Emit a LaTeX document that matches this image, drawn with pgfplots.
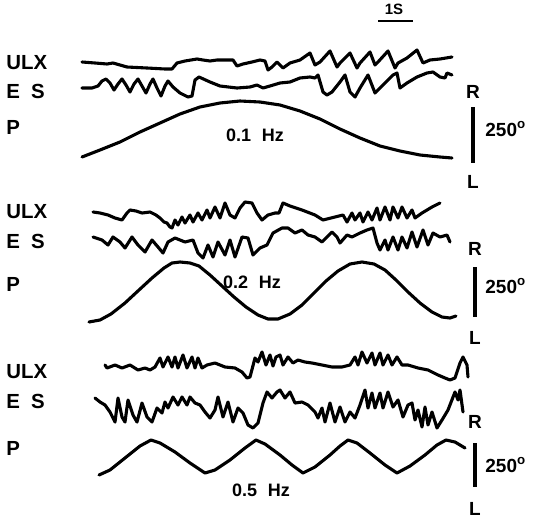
\documentclass[border=0pt]{standalone}
\usepackage{pgfplots}
\pgfplotsset{compat=1.18}
\usepackage{fontspec}
\setmainfont{Liberation Sans}
\begin{document}
\begin{tikzpicture}
\begin{axis}[scale only axis, width=273pt, height=260pt,
  xmin=0, xmax=546, ymin=0, ymax=520, y dir=reverse,
  hide axis, clip=false,
  tr/.style={black, line width=1.55pt, line join=round, line cap=round, mark=none},
  bar/.style={black, line width=1.7pt, mark=none}]
% invisible frame to fix the picture size
\addplot[draw=none, mark=none] coordinates {(0,0) (546,520)};
% ---------------- row 1 (0.1 Hz) ----------------
\addplot[tr] coordinates {(82,62) (95,63) (107,64) (113,63) (127,67) (147,68) (165,69) (172,69) (177,63) (185,61) (197,59) (203,60) (210,61) (217,60) (233,60) (237,66) (243,64) (252,62) (260,60) (265,61) (268,70) (272,67) (277,62) (283,68) (290,63) (300,60) (310,53) (315,65) (320,62) (330,51) (337,67) (340,63) (350,53) (357,68) (360,63) (370,52) (375,65) (378,62) (388,51) (395,68) (398,63) (407,58) (417,50) (423,63) (430,60) (440,59) (452,57)};
\addplot[tr] coordinates {(82,88) (92,88) (98,86) (102,81) (106,79) (110,83) (114,90) (118,84) (122,79) (126,85) (130,92) (134,84) (138,79) (142,86) (146,93) (150,84) (153,79) (157,88) (161,96) (165,86) (168,81) (173,87) (180,93) (188,97) (192,96) (195,80) (199,77) (210,82) (220,86) (237,88) (250,87) (257,85) (263,88) (270,86) (280,83) (290,82) (300,78) (310,77) (315,78) (318,75) (323,92) (327,95) (332,92) (340,82) (345,75) (350,92) (355,97) (360,88) (368,75) (375,93) (380,88) (388,80) (393,75) (397,73) (400,88) (407,83) (417,77) (427,73) (433,72) (440,77) (445,78) (447,73) (452,75)};
\addplot[tr] coordinates {(82,157) (100,150) (120,142) (140,132) (160,123) (180,114) (200,107) (220,103) (240,101) (260,102) (280,105) (300,111) (320,119) (340,129) (360,138) (380,146) (400,151) (420,155) (440,157) (452,158)};
% ---------------- row 2 (0.2 Hz) ----------------
\addplot[tr] coordinates {(93,212) (100,213) (108,215) (115,218) (122,220) (127,213) (130,210) (136,211) (142,213) (150,212) (156,215) (160,218) (164,222) (167,223) (170,227) (172,228) (175,220) (178,225) (182,217) (185,223) (190,215) (193,222) (198,213) (202,220) (207,210) (210,218) (215,207) (220,218) (225,203) (230,215) (235,218) (240,208) (245,202) (252,203) (257,213) (262,220) (268,215) (275,213) (279,213) (283,203) (290,206) (302,210) (315,215) (323,220) (335,217) (343,215) (347,222) (352,213) (355,220) (360,213) (363,222) (368,212) (372,220) (377,208) (380,220) (385,207) (390,220) (393,207) (398,218) (402,207) (407,218) (412,210) (415,218) (422,213) (432,207) (440,203)};
\addplot[tr] coordinates {(93,237) (102,240) (108,245) (113,237) (120,242) (125,248) (132,237) (138,245) (145,252) (152,240) (158,247) (163,253) (168,242) (175,238) (185,242) (193,240) (198,253) (203,258) (208,245) (213,257) (218,242) (225,255) (230,240) (235,257) (242,237) (248,238) (253,255) (260,248) (267,245) (273,233) (282,228) (288,228) (295,233) (302,230) (308,235) (315,237) (322,242) (327,237) (332,232) (337,237) (340,243) (347,235) (352,237) (360,233) (367,230) (373,228) (377,243) (380,250) (385,240) (388,250) (393,237) (398,250) (402,237) (407,248) (412,232) (417,247) (423,230) (428,245) (433,233) (440,237) (447,235) (450,242)};
\addplot[tr] coordinates {(89,322) (100,320) (111,314) (125,303) (139,290) (152,278) (164,268) (172,263) (180,262) (190,263) (199,266) (210,275) (222,286) (234,297) (246,307) (258,315) (268,319) (278,319) (290,314) (302,305) (314,293) (326,281) (338,271) (350,264) (362,262) (374,264) (385,270) (396,280) (408,292) (420,303) (432,312) (442,317) (450,318) (456,316)};
% ---------------- row 3 (0.5 Hz) ----------------
\addplot[tr] coordinates {(105,365) (107,368) (115,365) (122,368) (130,365) (138,370) (145,368) (150,370) (155,367) (160,358) (163,367) (168,357) (172,367) (175,357) (178,368) (183,355) (187,368) (192,357) (195,368) (198,358) (202,368) (207,365) (215,363) (225,367) (235,368) (242,372) (247,378) (250,377) (255,358) (258,362) (262,352) (266,365) (270,355) (273,366) (276,357) (280,355) (283,365) (288,357) (293,363) (298,360) (305,362) (312,363) (322,365) (332,367) (342,367) (350,365) (355,357) (358,365) (362,352) (367,363) (372,353) (375,365) (380,353) (383,365) (388,355) (392,365) (397,357) (402,365) (408,365) (418,368) (428,370) (438,375) (445,378) (450,380) (455,378) (460,363) (463,357) (467,365) (468,377)};
\addplot[tr] coordinates {(95,398) (100,402) (105,405) (110,412) (115,422) (118,398) (122,417) (125,422) (128,400) (133,415) (137,422) (142,403) (147,417) (152,422) (157,408) (162,413) (165,402) (168,408) (173,397) (178,405) (182,397) (187,405) (190,397) (195,403) (200,405) (205,412) (210,418) (215,410) (218,397) (223,417) (228,402) (233,422) (238,408) (243,413) (248,425) (253,428) (258,423) (263,403) (267,392) (272,398) (277,392) (280,390) (285,398) (290,392) (295,403) (302,402) (308,405) (315,412) (318,418) (322,408) (325,422) (330,403) (335,422) (340,407) (345,422) (350,412) (355,418) (360,405) (365,390) (368,408) (372,393) (375,408) (380,393) (383,408) (388,392) (393,407) (398,400) (403,417) (408,405) (412,403) (415,420) (418,410) (422,427) (425,407) (428,425) (432,412) (437,428) (442,420) (448,410) (455,392) (458,400) (460,390) (463,412)};
\addplot[tr] coordinates {(99,475) (110,470) (125,458) (140,446) (151,440) (160,443) (175,452) (190,463) (205,473) (215,470) (230,460) (245,448) (256,440) (265,444) (280,455) (292,465) (303,473) (315,467) (330,455) (340,446) (348,440) (357,443) (370,453) (385,465) (397,473) (410,466) (425,455) (437,445) (446,440) (455,442) (465,448)};
% ---------------- scale bars ----------------
\addplot[bar, line width=1.3pt] coordinates {(378,21) (413,21)};
\addplot[bar] coordinates {(473,107) (473,163)};
\addplot[bar] coordinates {(475,267) (475,317)};
\addplot[bar] coordinates {(475,443) (475,487)};
% ---------------- text ----------------
\begin{scope}[every node/.style={font=\fontsize{10.2}{12}\selectfont\bfseries, anchor=west, inner sep=0pt}]
\node at (axis cs:6,63) {ULX};
\node at (axis cs:6,91) {E\hspace{0.55em}S};
\node at (axis cs:6,127) {P};
\node at (axis cs:6,212) {ULX};
\node at (axis cs:6,241) {E\hspace{0.55em}S};
\node at (axis cs:6,284) {P};
\node at (axis cs:6,372) {ULX};
\node at (axis cs:6,401) {E\hspace{0.55em}S};
\node at (axis cs:6,448) {P};
\end{scope}
\begin{scope}[every node/.style={font=\fontsize{9.5}{11}\selectfont\bfseries, inner sep=0pt}]
\node at (axis cs:473,92) {R};
\node at (axis cs:473,182) {L};
\node at (axis cs:475,249) {R};
\node at (axis cs:475,338) {L};
\node at (axis cs:475,422) {R};
\node at (axis cs:475,509) {L};
\node[anchor=west] at (axis cs:485,129) {250\textsuperscript{o}};
\node[anchor=west] at (axis cs:485,286) {250\textsuperscript{o}};
\node[anchor=west] at (axis cs:485,465) {250\textsuperscript{o}};
\end{scope}
\begin{scope}[every node/.style={font=\fontsize{9}{11}\selectfont\bfseries, inner sep=0pt}]
\node at (axis cs:255,135) {0.1\hspace{0.6em}Hz};
\node at (axis cs:252,282) {0.2\hspace{0.6em}Hz};
\node at (axis cs:261,490) {0.5\hspace{0.6em}Hz};
\node[font=\fontsize{7.5}{9}\selectfont\bfseries] at (axis cs:394,9) {1S};
\end{scope}
\end{axis}
\end{tikzpicture}
\end{document}
